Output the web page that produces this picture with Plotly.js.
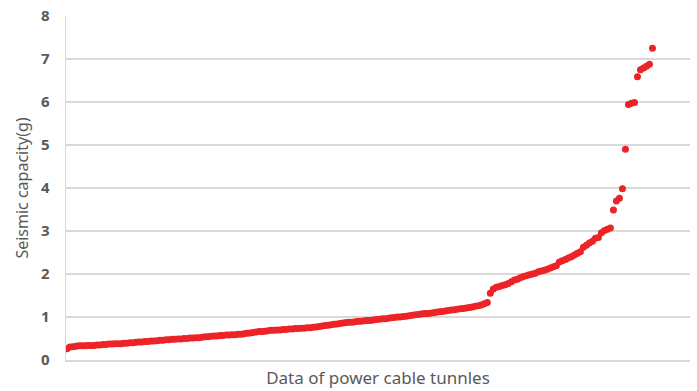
<!DOCTYPE html>
<html>
<head>
<meta charset="utf-8">
<script src="https://cdn.plot.ly/plotly-3.0.1.min.js"></script>
<style>
  html, body { margin: 0; padding: 0; background: #ffffff; }
  #chart { width: 697px; height: 391px; }
</style>
</head>
<body>
<div id="chart"></div>
<script>
// Seismic capacity (g) of each power cable tunnel, sorted ascending
const capacity = [
  0.26, 0.30, 0.31, 0.32, 0.33, 0.33, 0.33, 0.34, 0.34, 0.34,
  0.35, 0.35, 0.36, 0.36, 0.37, 0.37, 0.38, 0.38, 0.38, 0.39,
  0.39, 0.40, 0.40, 0.41, 0.42, 0.42, 0.43, 0.43, 0.44, 0.44,
  0.45, 0.46, 0.46, 0.47, 0.47, 0.48, 0.48, 0.49, 0.49, 0.50,
  0.50, 0.51, 0.51, 0.52, 0.52, 0.53, 0.54, 0.54, 0.55, 0.56,
  0.56, 0.57, 0.57, 0.58, 0.58, 0.59, 0.59, 0.60, 0.60, 0.61,
  0.62, 0.63, 0.64, 0.65, 0.66, 0.66, 0.67, 0.68, 0.69, 0.69,
  0.70, 0.70, 0.71, 0.71, 0.72, 0.72, 0.73, 0.73, 0.74, 0.74,
  0.75, 0.75, 0.76, 0.77, 0.78, 0.79, 0.80, 0.81, 0.82, 0.83,
  0.84, 0.85, 0.86, 0.87, 0.88, 0.88, 0.89, 0.90, 0.90, 0.91,
  0.92, 0.92, 0.93, 0.94, 0.95, 0.96, 0.96, 0.97, 0.98, 0.99,
  1.00, 1.00, 1.01, 1.02, 1.03, 1.04, 1.05, 1.06, 1.07, 1.08,
  1.08, 1.09, 1.10, 1.11, 1.12, 1.13, 1.14, 1.15, 1.16, 1.17,
  1.18, 1.19, 1.20, 1.21, 1.22, 1.23, 1.25, 1.26, 1.28, 1.31,
  1.34, 1.55, 1.65, 1.69, 1.71, 1.73, 1.75, 1.78, 1.82, 1.86,
  1.88, 1.91, 1.94, 1.96, 1.98, 2.00, 2.02, 2.05, 2.07, 2.09,
  2.11, 2.14, 2.17, 2.19, 2.28, 2.31, 2.34, 2.37, 2.40, 2.44,
  2.48, 2.52, 2.62, 2.67, 2.72, 2.76, 2.83, 2.85, 2.96, 3.01,
  3.04, 3.07, 3.49, 3.70, 3.76, 3.98, 4.90, 5.94, 5.97, 5.99,
  6.59, 6.75, 6.79, 6.83, 6.88, 7.25
];

// Tunnel number (position in the sorted list)
const tunnelNo = capacity.map((_, i) => i + 1);

const yTicks = [0, 1, 2, 3, 4, 5, 6, 7, 8];
const xTitle = 'Data of power cable tunnles';
const yTitle = 'Seismic capacity(g)';

const grey = '#595959';
const gridGrey = '#d9d9d9';
const fontFamily = '"Noto Sans", "Open Sans", sans-serif';

const trace = {
  type: 'scatter',
  mode: 'markers',
  x: tunnelNo,
  y: capacity,
  marker: { color: '#ec2327', size: 7, line: { width: 0 } },
  hoverinfo: 'x+y'
};

const layout = {
  width: 697,
  height: 391,
  margin: { l: 66, r: 7, t: 16, b: 31 },
  paper_bgcolor: '#ffffff',
  plot_bgcolor: '#ffffff',
  showlegend: false,
  font: { family: fontFamily, color: grey },
  xaxis: {
    range: [0.7, 208.5],
    showticklabels: false,
    ticks: '',
    showgrid: false,
    zeroline: false,
    showline: true,
    linecolor: gridGrey,
    linewidth: 1.5,
    title: { text: xTitle, font: { family: fontFamily, size: 17, color: grey }, standoff: 11 }
  },
  yaxis: {
    range: [0, 8],
    tickvals: yTicks,
    ticktext: yTicks.map(String),
    ticks: '',
    ticklabelstandoff: 12,
    tickfont: { family: fontFamily, size: 15, color: grey, weight: 'bold' },
    showgrid: true,
    gridcolor: gridGrey,
    gridwidth: 1.5,
    zeroline: false,
    showline: true,
    linecolor: gridGrey,
    linewidth: 1.5,
    title: { text: yTitle, font: { family: fontFamily, size: 16, color: grey }, standoff: 8 }
  }
};

Plotly.newPlot('chart', [trace], layout, { displayModeBar: false, staticPlot: true });
</script>
</body>
</html>
